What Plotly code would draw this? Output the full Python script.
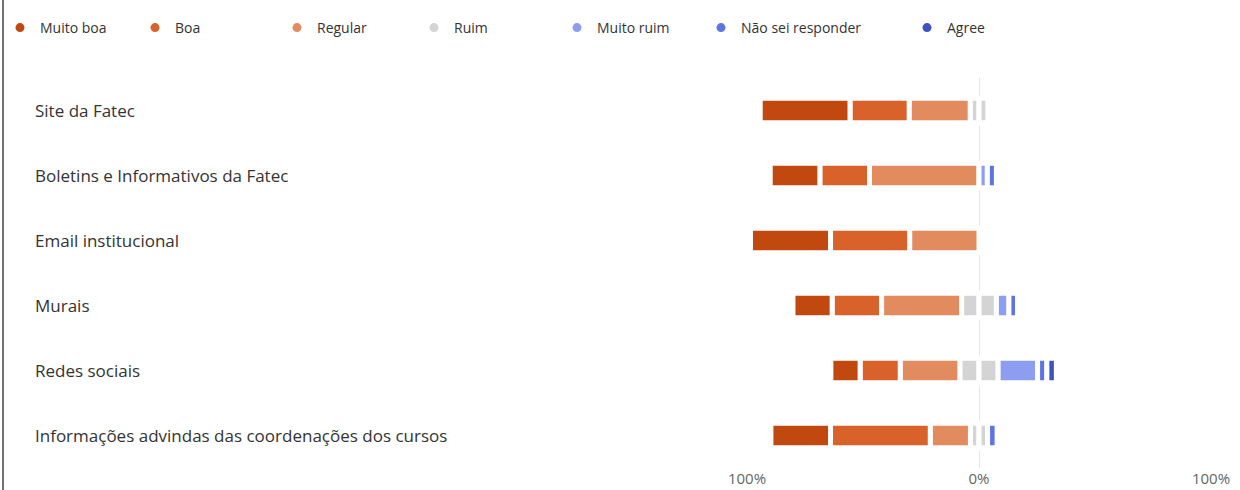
import plotly.graph_objects as go

categories = [
    "Site da Fatec",
    "Boletins e Informativos da Fatec",
    "Email institucional",
    "Murais",
    "Redes sociais",
    "Informações advindas das coordenações dos cursos",
]
muito_boa = [38.7, 21.4, 34.5, 16.9, 12.6, 25.7]
boa = [25.5, 21.4, 34.1, 21.3, 17.3, 43.0]
regular = [26.3, 47.2, 29.9, 34.5, 25.7, 17.3]
ruim = [7.6, 0, 0, 15.0, 16.5, 7.4]
muito_ruim = [0, 3.6, 0, 5.4, 17.0, 0]
nao_sei = [0, 3.9, 0, 3.7, 4.0, 4.1]
agree = [0, 0, 0, 0, 4.1, 0]

tick_vals = [-100, 0, 100]
tick_text = ["100%", "0%", "100%"]

names = ["Muito boa", "Boa", "Regular", "Ruim", "Muito ruim", "Não sei responder", "Agree"]
colors = ["#c1490f", "#d9622b", "#e28b5f", "#d4d4d4", "#8d9ef2", "#5d75e3", "#3f52c4"]
col = dict(zip(names, colors))

W, H = 1240, 490
L, R, T, B = 747, 29, 78, 22
PW = W - L - R
PH = H - T - B
FONT = "Open Sans"

# legend marker x positions (px)
legend_px = [20, 160, 302, 439, 582, 726, 932]


def nz(vals, sign=1.0, half=False):
    out = []
    for v in vals:
        if v == 0:
            out.append(None)
        else:
            out.append(sign * (v / 2 if half else v))
    return out


fig = go.Figure()
border = dict(color="white", width=5)
bar_w = 0.38

# negative side (nearest zero first), then positive side
stack = [
    ("Ruim", nz(ruim, -1, True)),
    ("Regular", nz(regular, -1)),
    ("Boa", nz(boa, -1)),
    ("Muito boa", nz(muito_boa, -1)),
    ("Ruim", nz(ruim, 1, True)),
    ("Muito ruim", nz(muito_ruim)),
    ("Não sei responder", nz(nao_sei)),
    ("Agree", nz(agree)),
]
for name, vals in stack:
    fig.add_trace(go.Bar(
        y=categories, x=vals, orientation="h", name=name,
        marker=dict(color=col[name], line=border),
        width=bar_w, showlegend=False, hoverinfo="skip",
    ))

legend_layouts = {}
for i, name in enumerate(names):
    lid = "legend" if i == 0 else f"legend{i + 1}"
    fig.add_trace(go.Scatter(
        x=[None], y=[None], mode="markers", name=name,
        marker=dict(symbol="circle", size=9, color=col[name]),
        legend=lid,
    ))
    legend_layouts[lid] = dict(
        orientation="h", xref="container", yref="container",
        yanchor="top", xanchor="left", y=1 - 12 / H,
        x=max(0, legend_px[i] - 25) / W,
        font=dict(family=FONT, size=14, color="#333333"),
        bgcolor="rgba(0,0,0,0)", itemwidth=30,
    )

annotations = []
for c in categories:
    annotations.append(dict(
        x=(33 - L) / PW, xref="paper", y=c, yref="y", text=c,
        showarrow=False, xanchor="left", yanchor="middle",
        font=dict(family=FONT, size=17, color="#333333"),
    ))

fig.update_layout(
    width=W, height=H,
    margin=dict(l=L, r=R, t=T, b=B, autoexpand=False),
    paper_bgcolor="white", plot_bgcolor="white",
    barmode="relative",
    font=dict(family=FONT),
    xaxis=dict(
        range=[-100, 100], tickvals=tick_vals, ticktext=tick_text,
        showgrid=True, gridcolor="#e6e6e6", gridwidth=1, zeroline=False,
        showline=False, ticks="",
        tickfont=dict(family=FONT, size=15, color="#666666"),
        fixedrange=True,
    ),
    yaxis=dict(
        categoryorder="array", categoryarray=categories, autorange="reversed",
        showticklabels=False, showgrid=False, zeroline=False, fixedrange=True,
    ),
    annotations=annotations,
    shapes=[dict(
        type="line", xref="paper", yref="paper",
        x0=(3 - L) / PW, x1=(3 - L) / PW,
        y0=-(B + 5) / PH, y1=(H - B + 5) / PH,
        line=dict(color="#444444", width=1.5),
    )],
    **legend_layouts,
)

fig.write_html(
    "out.html",
    config={"displayModeBar": False},
    post_script="document.body.style.margin='0px';",
)
